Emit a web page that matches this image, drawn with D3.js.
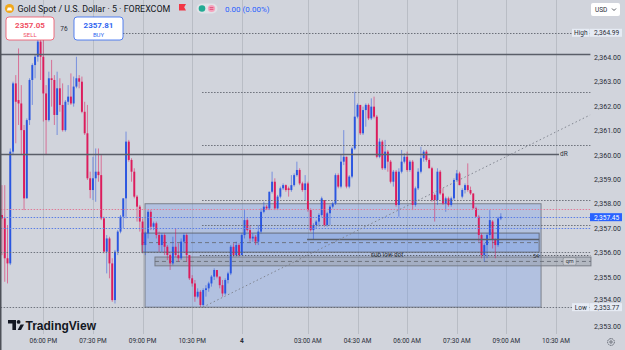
<!DOCTYPE html>
<html>
<head>
<meta charset="utf-8">
<script src="https://cdn.jsdelivr.net/npm/d3@7"></script>
<style>
	html, body { margin: 0; padding: 0; background: #d1d4dc; }
	svg { display: block; font-family: Roboto, "Liberation Sans", sans-serif; }
</style>
</head>
<body>
<div id="chart"></div>
<script>
// 5 minute candles, Gold Spot / USD, from 16:45 to 09:00 (market break 00:00 - 01:00)
var opens = [
	2357.54, 2357.40, 2355.77, 2355.56, 2360.13, 2362.92, 2362.24, 2362.10, 2361.01, 2358.22,
	2361.42, 2363.06, 2363.67, 2364.01, 2364.63, 2364.01, 2362.51, 2361.42, 2363.13, 2363.06,
	2361.63, 2362.72, 2362.04, 2361.01, 2362.17, 2362.38, 2362.10, 2362.79, 2363.13, 2362.99,
	2361.76, 2360.88, 2359.04, 2358.56, 2359.04, 2359.31, 2359.17, 2357.40, 2356.04, 2356.58,
	2355.56, 2354.06, 2356.04, 2356.86, 2357.47, 2358.22, 2360.54, 2359.79, 2359.31, 2358.29,
	2357.88, 2357.27, 2356.31, 2356.79, 2357.67, 2357.06, 2357.20, 2356.72, 2356.31, 2356.72,
	2356.24, 2355.90, 2355.56, 2356.24, 2355.90, 2355.77, 2356.45, 2356.72, 2355.90, 2354.95,
	2354.74, 2354.20, 2354.40, 2353.86, 2354.47, 2354.54, 2354.74, 2355.02, 2355.29, 2355.02,
	2354.67, 2354.33, 2354.88, 2355.15, 2356.24, 2355.90, 2356.31, 2355.90, 2356.72, 2357.33,
	2356.92, 2356.58, 2356.65, 2356.45, 2356.86, 2357.67, 2357.88, 2357.81, 2358.49, 2358.90,
	2357.81, 2358.29, 2358.63, 2358.76, 2358.63, 2358.56, 2358.76, 2359.17, 2359.38, 2358.83,
	2358.56, 2358.83, 2357.74, 2356.92, 2357.13, 2357.27, 2357.54, 2358.15, 2357.13, 2357.61,
	2357.88, 2358.01, 2359.17, 2358.70, 2359.72, 2359.92, 2358.70, 2359.11, 2360.26, 2361.56,
	2362.04, 2360.88, 2361.83, 2362.04, 2361.49, 2361.97, 2361.56, 2359.92, 2360.54, 2359.45,
	2360.13, 2359.72, 2358.90, 2359.31, 2357.95, 2359.31, 2359.72,
	2359.92, 2359.38, 2359.72, 2357.95, 2358.63, 2359.31, 2359.86, 2360.13, 2359.79, 2359.45,
	2358.36, 2358.15, 2359.31,
	2358.42, 2358.01, 2358.22, 2357.95, 2358.22, 2358.97, 2359.24, 2358.29, 2358.56, 2358.76,
	2358.56, 2358.42, 2357.81, 2357.47, 2356.72, 2355.90, 2356.31, 2356.72, 2357.27, 2356.52, 2356.31, 2357.40
];
var highs = [
	2358.76, 2358.76, 2357.13, 2360.26, 2362.99, 2363.26, 2364.35, 2362.85, 2361.22, 2361.49,
	2363.13, 2363.74, 2364.08, 2364.99, 2364.76, 2364.70, 2362.85, 2363.40, 2363.88, 2363.26,
	2363.40, 2363.13, 2362.92, 2362.24, 2362.85, 2363.33, 2363.20, 2364.01, 2363.26, 2363.20,
	2362.17, 2362.04, 2359.31, 2359.92, 2360.26, 2360.26, 2359.99, 2357.47, 2356.72, 2356.65,
	2355.77, 2356.11, 2356.92, 2357.54, 2358.22, 2360.95, 2360.61, 2359.86, 2359.45, 2358.36,
	2357.95, 2357.40, 2356.86, 2357.74, 2357.74, 2357.27, 2357.27, 2356.86, 2356.79, 2356.79,
	2356.31, 2355.97, 2356.65, 2356.99, 2356.38, 2356.58, 2356.79, 2356.79, 2355.90, 2355.08,
	2354.88, 2354.54, 2354.47, 2354.54, 2354.67, 2354.81, 2355.08, 2355.36, 2355.29, 2355.02,
	2354.88, 2354.95, 2355.22, 2356.31, 2356.38, 2356.45, 2356.38, 2356.79, 2357.74, 2357.40,
	2357.13, 2356.79, 2356.72, 2357.13, 2357.81, 2358.08, 2357.95, 2358.49, 2359.31, 2359.04,
	2358.36, 2358.70, 2358.83, 2358.79, 2358.70, 2359.17, 2359.24, 2359.72, 2359.45, 2358.90,
	2359.17, 2358.90, 2357.81, 2357.20, 2357.33, 2357.61, 2358.29, 2358.15, 2357.67, 2357.95,
	2358.08, 2359.24, 2359.24, 2359.99, 2361.01, 2359.92, 2359.17, 2360.33, 2362.58, 2362.10,
	2362.04, 2361.97, 2362.10, 2362.10, 2362.31, 2362.38, 2361.63, 2360.67, 2360.61, 2360.61,
	2360.20, 2359.79, 2359.38, 2359.38, 2359.45, 2360.20, 2360.06,
	2360.13, 2359.79, 2359.79, 2358.70, 2359.45, 2360.33, 2360.20, 2360.20, 2359.86, 2359.51,
	2358.42, 2359.45, 2359.38,
	2358.63, 2358.29, 2358.29, 2358.29, 2359.04, 2359.38, 2359.31, 2358.63, 2358.83, 2359.65,
	2358.70, 2358.42, 2357.88, 2357.54, 2356.79, 2356.38, 2356.79, 2357.74, 2357.33, 2356.58, 2357.47, 2357.61
];
var lows = [
	2355.90, 2354.81, 2354.74, 2355.49, 2359.99, 2360.47, 2361.22, 2359.99, 2357.74, 2358.22,
	2361.22, 2362.04, 2363.13, 2363.81, 2363.06, 2361.36, 2359.99, 2361.36, 2361.97, 2361.22,
	2360.81, 2361.76, 2360.95, 2360.95, 2362.04, 2362.04, 2361.97, 2362.72, 2362.72, 2361.70,
	2360.81, 2358.97, 2358.22, 2358.15, 2358.08, 2358.90, 2357.33, 2355.97, 2355.15, 2354.95,
	2353.99, 2353.92, 2355.90, 2356.79, 2356.99, 2357.40, 2359.72, 2358.90, 2358.22, 2357.27,
	2356.86, 2355.97, 2355.90, 2356.58, 2356.92, 2356.92, 2356.58, 2356.04, 2356.04, 2355.90,
	2355.70, 2355.29, 2355.49, 2355.83, 2355.63, 2355.70, 2356.04, 2355.63, 2354.88, 2354.61,
	2353.99, 2354.13, 2353.77, 2353.79, 2354.20, 2354.40, 2354.61, 2354.88, 2354.95, 2354.54,
	2354.20, 2354.27, 2354.74, 2355.08, 2355.83, 2355.83, 2355.83, 2355.90, 2356.58, 2356.86,
	2356.45, 2356.45, 2356.31, 2356.31, 2356.79, 2357.61, 2357.74, 2357.74, 2358.42, 2357.74,
	2357.74, 2358.22, 2358.56, 2358.49, 2358.29, 2358.49, 2358.70, 2359.11, 2358.76, 2358.49,
	2358.15, 2357.67, 2356.86, 2356.52, 2356.99, 2357.06, 2357.47, 2357.06, 2357.06, 2357.13,
	2357.81, 2357.95, 2358.63, 2358.63, 2359.58, 2358.63, 2358.63, 2359.04, 2360.20, 2361.49,
	2360.81, 2360.81, 2361.15, 2361.42, 2361.42, 2361.49, 2359.86, 2359.86, 2359.38, 2359.38,
	2359.31, 2358.83, 2358.70, 2357.88, 2357.47, 2359.24, 2359.65,
	2359.31, 2359.31, 2357.74, 2357.88, 2358.56, 2359.24, 2359.72, 2359.72, 2359.45, 2358.08,
	2357.27, 2357.95, 2358.36,
	2357.95, 2357.67, 2357.88, 2357.88, 2358.15, 2358.90, 2358.76, 2358.22, 2358.42, 2358.49,
	2358.36, 2357.81, 2357.47, 2356.45, 2355.77, 2355.63, 2355.77, 2356.58, 2356.17, 2355.77, 2356.24, 2357.33
];
var closes = [
	2357.40, 2355.77, 2355.56, 2360.13, 2362.92, 2362.17, 2362.10, 2361.01, 2358.22, 2361.42,
	2363.06, 2363.67, 2364.01, 2364.63, 2364.01, 2362.51, 2361.42, 2363.13, 2363.06, 2361.63,
	2362.72, 2362.04, 2361.01, 2362.17, 2362.38, 2362.10, 2362.79, 2363.13, 2362.99, 2361.76,
	2360.88, 2359.04, 2358.56, 2359.04, 2359.31, 2359.17, 2357.40, 2356.04, 2356.58, 2355.56,
	2354.06, 2356.04, 2356.86, 2357.47, 2358.22, 2360.54, 2359.79, 2359.31, 2358.29, 2357.88,
	2357.27, 2356.31, 2356.79, 2357.67, 2357.06, 2357.20, 2356.72, 2356.31, 2356.72, 2356.24,
	2355.90, 2355.56, 2356.24, 2355.90, 2355.77, 2356.45, 2356.72, 2355.90, 2354.95, 2354.74,
	2354.20, 2354.40, 2353.86, 2354.47, 2354.54, 2354.74, 2355.02, 2355.29, 2355.02, 2354.67,
	2354.33, 2354.88, 2355.15, 2356.24, 2355.90, 2356.31, 2355.90, 2356.72, 2357.33, 2356.92,
	2356.58, 2356.65, 2356.45, 2356.86, 2357.67, 2357.88, 2357.81, 2358.49, 2358.90, 2357.81,
	2358.29, 2358.63, 2358.76, 2358.56, 2358.56, 2358.76, 2359.17, 2359.38, 2358.83, 2358.56,
	2358.83, 2357.74, 2356.92, 2357.13, 2357.27, 2357.54, 2358.22, 2357.13, 2357.61, 2357.88,
	2358.01, 2359.17, 2358.70, 2359.72, 2359.92, 2358.70, 2359.11, 2360.26, 2361.56, 2362.04,
	2360.88, 2361.83, 2362.04, 2361.49, 2361.97, 2361.56, 2359.92, 2360.54, 2359.45, 2360.13,
	2359.72, 2358.90, 2359.31, 2357.95, 2359.31, 2359.72, 2359.92,
	2359.38, 2359.72, 2357.95, 2358.63, 2359.31, 2359.86, 2360.13, 2359.79, 2359.45, 2358.15,
	2358.15, 2359.31, 2358.42,
	2358.01, 2358.22, 2357.95, 2358.22, 2358.97, 2359.24, 2358.76, 2358.56, 2358.76, 2358.56,
	2358.42, 2357.81, 2357.47, 2356.72, 2355.90, 2356.31, 2356.72, 2357.33, 2356.52, 2356.31, 2357.40, 2357.47
];

var priceTicks = [2353, 2354, 2355, 2356, 2357, 2358, 2359, 2360, 2361, 2362, 2363, 2364];
var timeTickLabels = ["06:00 PM", "07:30 PM", "09:00 PM", "10:30 PM", "4", "03:00 AM", "04:30 AM", "06:00 AM", "07:30 AM", "09:00 AM", "10:30 AM"];
var timeTickBars = [15, 33, 51, 69, 87, 111, 129, 147, 165, 183, 201];

var lastPrice = 2357.45;
var sessionHigh = 2364.99;
var sessionLow = 2353.77;
var sellPrice = "2357.05";
var buyPrice = "2357.81";
var spreadText = "76";

// drawings: price levels, and bar slots where they start / end
var solidLevels = [2364.12, 2360.03];
var solidLevelEnds = [214, 202.6];
var dottedLevels = [2362.58, 2360.40, 2358.15, 2357.13];
var dottedStart = 73.1;
var askLevel = 2357.78;
var bidLevels = [2357.45, 2357.02];
var grayLevels = [2356.02, 2353.77];
var highLineStart = 44.4;
var zoneOuter = {from: 52.4, to: 196.1, low: 2353.77, high: 2358.0};
var zoneInner = {from: 51.3, to: 195.4, low: 2356.02, high: 2356.80};
var zoneGray = {from: 56.0, to: 214.2, low: 2355.46, high: 2355.82};
var innerLine = {from: 111.2, to: 195.4, price: 2356.56};
var subLowDot = {from: 72.3, to: 214, price: 2355.90, labelAt: 140.2};
var trendLine = [[73.4, 2353.77], [213.9, 2361.63]];

var upColor = "#2a56e0";
var downColor = "#dc1c5c";

/**
 * @class
 * Candle chart renderer
 */
class CandleChartRenderer {
	constructor(options) {
		this._options = options;
		this._svgEl = null;

		// bar slots, step is about 2.76 px
		this._x = d3.scaleBand()
			.domain(d3.range(options.slots))
			.range([options.left, options.right])
			.paddingInner(0.3)
			.paddingOuter(0.15);

		// fractional slot positions for drawings
		this._xPos = d3.scaleLinear()
			.domain([0, options.slots])
			.range([options.left, options.right]);

		this._y = d3.scaleLinear()
			.domain([2353, 2364])
			.range([326, 57]);
	}

	render(selector) {
		var o = this._options;
		var svg = this._svgEl = d3.select(selector).append("svg")
			.attr("width", o.width)
			.attr("height", o.height);

		svg.append("rect").attr("width", o.width).attr("height", o.height).attr("fill", "#d1d4dc");

		this._renderGrid();
		this._renderZones();
		this._renderCandles();
		this._renderLines();
		this._renderPriceAxis();
		this._renderTimeAxis();
		this._renderHeader();
		this._renderLogo();

		// dark left border
		svg.append("line")
			.attr("x1", 0.75).attr("x2", 0.75).attr("y1", 0).attr("y2", o.height)
			.attr("stroke", "#4d5058").attr("stroke-width", 1.5);
		return this;
	}

	_cx(i) {
		return this._x(i) + this._x.bandwidth() / 2;
	}

	_renderGrid() {
		var svg = this._svgEl;
		svg.append("g").selectAll("line")
			.data(timeTickBars)
			.enter().append("line")
			.attr("x1", d => Math.round(this._cx(d)) + 0.5)
			.attr("x2", d => Math.round(this._cx(d)) + 0.5)
			.attr("y1", 0).attr("y2", 334)
			.attr("stroke", "rgba(140,145,155,0.35)")
			.attr("stroke-width", 1);
	}

	_renderZones() {
		var svg = this._svgEl, xp = this._xPos, y = this._y;
		var g = svg.append("g");

		var box = function (z, fill, stroke) {
			g.append("rect")
				.attr("x", xp(z.from)).attr("width", xp(z.to) - xp(z.from))
				.attr("y", y(z.high)).attr("height", y(z.low) - y(z.high))
				.attr("fill", fill).attr("stroke", stroke).attr("stroke-width", 1);
		};
		box(zoneOuter, "rgba(95,145,235,0.27)", "rgba(110,115,125,0.85)");
		box(zoneInner, "rgba(85,135,235,0.28)", "rgba(90,95,105,0.85)");
		box(zoneGray, "rgba(150,155,166,0.5)", "rgba(110,115,125,0.85)");

		// dashed mid lines
		[zoneInner, zoneGray].forEach(z => {
			g.append("line")
				.attr("x1", xp(z.from)).attr("x2", xp(z.to))
				.attr("y1", y((z.low + z.high) / 2)).attr("y2", y((z.low + z.high) / 2))
				.attr("stroke", "rgba(105,110,120,0.9)").attr("stroke-dasharray", "4,3");
		});
	}

	_renderCandles() {
		var x = this._x, y = this._y;
		var bars = d3.range(closes.length).map(i => ({i: i, o: opens[i], h: highs[i], l: lows[i], c: closes[i]}));
		var g = this._svgEl.append("g");

		g.selectAll(".wick")
			.data(bars)
			.enter().append("line")
			.attr("class", "wick")
			.attr("x1", d => this._cx(d.i)).attr("x2", d => this._cx(d.i))
			.attr("y1", d => y(d.h)).attr("y2", d => y(d.l))
			.attr("stroke", d => d.c >= d.o ? upColor : downColor)
			.attr("stroke-opacity", 0.6)
			.attr("stroke-width", 0.9);

		g.selectAll(".body")
			.data(bars)
			.enter().append("rect")
			.attr("class", "body")
			.attr("x", d => x(d.i))
			.attr("width", x.bandwidth())
			.attr("y", d => y(Math.max(d.o, d.c)))
			.attr("height", d => Math.max(0.8, Math.abs(y(d.o) - y(d.c))))
			.attr("fill", d => d.c >= d.o ? upColor : downColor);
	}

	_renderLines() {
		var svg = this._svgEl, xp = this._xPos, y = this._y;
		var o = this._options;
		var g = svg.append("g");

		var hline = function (from, to, price, stroke, dash, w) {
			g.append("line")
				.attr("x1", xp(from)).attr("x2", xp(to))
				.attr("y1", Math.round(y(price)) + 0.5).attr("y2", Math.round(y(price)) + 0.5)
				.attr("stroke", stroke).attr("stroke-width", w || 1)
				.attr("stroke-dasharray", dash);
		};

		solidLevels.forEach((p, i) => hline(0, solidLevelEnds[i], p, "#5a5e68", null, 1.4));
		dottedLevels.forEach(p => hline(dottedStart, o.slots, p, "rgba(95,100,110,0.9)", "1.5,1.5"));
		hline(highLineStart, o.slots, sessionHigh, "rgba(95,100,110,0.9)", "1.5,1.5");
		hline(0, o.slots, askLevel, "#e07a98", "1.5,1.5");
		bidLevels.forEach(p => hline(0, o.slots, p, "#5b7ee6", "1.5,1.5"));
		grayLevels.forEach(p => hline(0, o.slots, p, "rgba(95,100,110,0.85)", "1.5,1.5"));
		hline(subLowDot.from, subLowDot.to, subLowDot.price, "rgba(80,85,95,0.9)", "1.5,1.5");
		hline(innerLine.from, innerLine.to, innerLine.price, "#5a606c", null, 1.5);

		// trend line, dotted
		g.append("line")
			.attr("x1", xp(trendLine[0][0])).attr("y1", y(trendLine[0][1]))
			.attr("x2", xp(trendLine[1][0])).attr("y2", y(trendLine[1][1]))
			.attr("stroke", "rgba(125,130,140,0.95)")
			.attr("stroke-dasharray", "1.5,2.5");

		// labels on drawings
		g.append("text")
			.attr("x", xp(subLowDot.labelAt)).attr("y", y(subLowDot.price) + 1.8)
			.attr("text-anchor", "middle").attr("font-size", 6.3).attr("fill", "#30343c")
			.text("sub low dot");
		g.append("text")
			.attr("x", xp(194.3)).attr("y", y(subLowDot.price) + 3)
			.attr("text-anchor", "middle").attr("font-size", 5.5).attr("fill", "#30343c")
			.text("54");
		g.append("text")
			.attr("x", xp(203)).attr("y", y(solidLevels[1]) + 2.3)
			.attr("font-size", 6.5).attr("fill", "#30343c")
			.text("dR");

		var qy = y((zoneGray.low + zoneGray.high) / 2);
		g.append("rect")
			.attr("x", xp(204.1)).attr("y", qy - 3.8).attr("width", 13).attr("height", 7.6).attr("rx", 1.5)
			.attr("fill", "#c9ccd3").attr("stroke", "#80848c").attr("stroke-width", 0.6);
		g.append("text")
			.attr("x", xp(204.1) + 6.5).attr("y", qy + 1.8)
			.attr("text-anchor", "middle").attr("font-size", 5.5).attr("fill", "#30343c")
			.text("qm");
	}

	_renderPriceAxis() {
		var svg = this._svgEl, y = this._y;
		var fmt = d3.format(",.2f");

		var axis = d3.axisRight(y)
			.tickValues(priceTicks)
			.tickSize(0)
			.tickPadding(0)
			.tickFormat(fmt);

		var ag = svg.append("g")
			.attr("transform", "translate(594,0)")
			.call(axis);
		ag.select(".domain").remove();
		ag.selectAll("text").attr("font-size", 7).attr("fill", "#2a2e39")
			.attr("font-family", "Roboto, 'Liberation Sans', sans-serif");
		// the label just above the Low tag sits a little higher
		ag.selectAll(".tick").filter(d => Math.abs(y(d) - y(sessionLow)) < 9)
			.select("text").attr("y", -2.2);

		// price tags
		var tag = function (price, fill, color, name) {
			var ty = y(price);
			svg.append("rect").attr("x", 590).attr("y", ty - 4).attr("width", 32).attr("height", 8)
				.attr("fill", fill);
			svg.append("text").attr("x", 594).attr("y", ty + 2.6)
				.attr("font-size", 6.6).attr("fill", color).text(fmt(price));
			if (name) {
				svg.append("rect").attr("x", 572).attr("y", ty - 4).attr("width", 17.5).attr("height", 8)
					.attr("fill", fill);
				svg.append("text").attr("x", 580.75).attr("y", ty + 2.6).attr("text-anchor", "middle")
					.attr("font-size", 6.5).attr("fill", "#2a2e39").text(name);
			}
		};
		tag(sessionHigh, "#e6ebf4", "#2a2e39", "High");
		tag(sessionLow, "#e6ebf4", "#2a2e39", "Low");
		tag(lastPrice, "#2962ff", "#ffffff", null);

		// currency selector
		svg.append("rect").attr("x", 591).attr("y", 3).attr("width", 29).attr("height", 13).attr("rx", 2)
			.attr("fill", "#ffffff");
		svg.append("text").attr("x", 595).attr("y", 12).attr("font-size", 6.5).attr("fill", "#2a2e39").text("USD");
		svg.append("path").attr("d", "M612,8.5 l2,2 l2,-2").attr("fill", "none")
			.attr("stroke", "#2a2e39").attr("stroke-width", 0.8);
	}

	_renderTimeAxis() {
		var svg = this._svgEl;
		var axis = d3.axisBottom(this._x)
			.tickValues(timeTickBars)
			.tickSize(0)
			.tickPadding(0)
			.tickFormat((d, i) => timeTickLabels[i]);

		var ag = svg.append("g")
			.attr("transform", "translate(0,338.5)")
			.call(axis);
		ag.select(".domain").remove();
		ag.selectAll("text")
			.attr("font-size", 6.5)
			.attr("fill", "#2a2e39")
			.attr("font-family", "Roboto, 'Liberation Sans', sans-serif")
			.attr("font-weight", (d, i) => timeTickLabels[i] === "4" ? "bold" : null);

		// settings gear
		svg.append("circle").attr("cx", 611).attr("cy", 342).attr("r", 3.4)
			.attr("fill", "none").attr("stroke", "#555a64").attr("stroke-width", 0.9)
			.attr("stroke-dasharray", "1.6,0.7");
		svg.append("circle").attr("cx", 611).attr("cy", 342).attr("r", 1.2)
			.attr("fill", "none").attr("stroke", "#555a64").attr("stroke-width", 0.8);
	}

	_renderHeader() {
		var svg = this._svgEl;

		// symbol icon
		svg.append("circle").attr("cx", 9.5).attr("cy", 8.5).attr("r", 4.6).attr("fill", "#f0a81c");
		svg.append("path").attr("d", "M6.8,10.6 L7.8,7.4 L11.2,7.4 L12.2,10.6 Z").attr("fill", "#ffffff");

		svg.append("text")
			.attr("x", 17.5).attr("y", 12)
			.attr("font-size", 8.9).attr("fill", "#131722")
			.text("Gold Spot / U.S. Dollar · 5 · FOREXCOM");

		// flag
		svg.append("path").attr("d", "M179,4 h7 l-1.8,3.2 l1.8,3.2 h-7 Z").attr("fill", "#f23645");

		// status pill
		svg.append("rect").attr("x", 196.5).attr("y", 3.5).attr("width", 21).attr("height", 10).attr("rx", 5)
			.attr("fill", "rgba(255,255,255,0.35)");
		svg.append("circle").attr("cx", 202).attr("cy", 8.5).attr("r", 3.3).attr("fill", "#22ab94");
		svg.append("circle").attr("cx", 211.5).attr("cy", 8.5).attr("r", 3.6).attr("fill", "#f5a3bd");
		svg.append("path").attr("d", "M209.6,7.6 h3.8 M209.6,9.4 h3.8").attr("stroke", "#e0406e").attr("stroke-width", 0.8);

		svg.append("text")
			.attr("x", 225).attr("y", 12)
			.attr("font-size", 8).attr("fill", "#2962ff")
			.text("0.00 (0.00%)");

		// sell / buy buttons
		var button = function (x, w, price, label, color) {
			svg.append("rect").attr("x", x).attr("y", 17).attr("width", w).attr("height", 23).attr("rx", 3)
				.attr("fill", "#ffffff").attr("stroke", color).attr("stroke-width", 0.8);
			svg.append("text").attr("x", x + w / 2).attr("y", 27.5).attr("text-anchor", "middle")
				.attr("font-size", 8).attr("font-weight", "bold").attr("fill", color).text(price);
			svg.append("text").attr("x", x + w / 2).attr("y", 36.5).attr("text-anchor", "middle")
				.attr("font-size", 6).attr("fill", color).text(label);
		};
		button(6, 48, sellPrice, "SELL", "#ef4f63");
		button(74, 49, buyPrice, "BUY", "#2f66f0");
		svg.append("text").attr("x", 64).attr("y", 30.5).attr("text-anchor", "middle")
			.attr("font-size", 6.5).attr("fill", "#2a2e39").text(spreadText);
	}

	_renderLogo() {
		var svg = this._svgEl;
		var g = svg.append("g").attr("fill", "#131722");
		g.append("path").attr("d", "M8,320 h8 v10 h-3.6 v-6.4 h-4.4 Z");
		g.append("circle").attr("cx", 18.6).attr("cy", 321.9).attr("r", 1.9);
		g.append("path").attr("d", "M17.6,330 L20.6,324.6 L24,324.6 L21,330 Z");
		g.append("text")
			.attr("x", 25.5).attr("y", 330)
			.attr("font-size", 12).attr("font-weight", "bold")
			.attr("font-family", "'Liberation Sans', Arial, sans-serif")
			.text("TradingView");
	}
}

new CandleChartRenderer({
	width: 625,
	height: 350,
	left: 0.62,
	right: 590.4,
	slots: 214
}).render("#chart");
</script>
</body>
</html>
